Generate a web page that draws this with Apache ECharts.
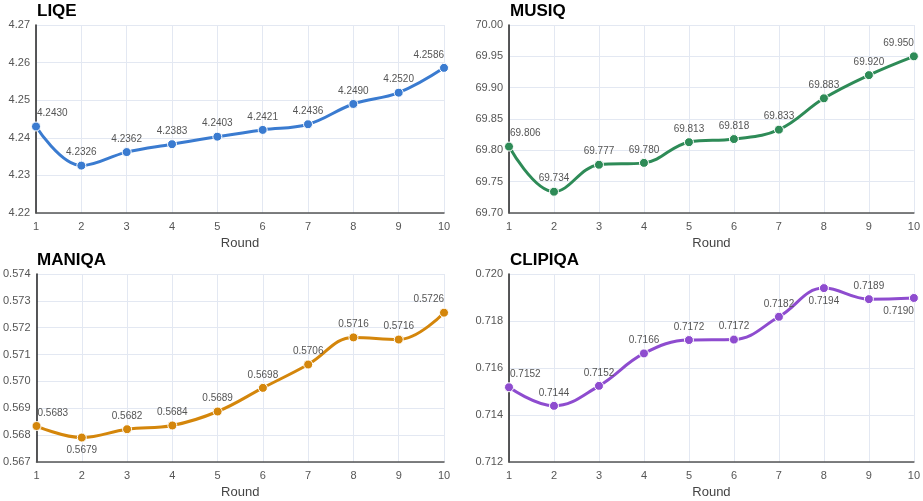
<!DOCTYPE html>
<html>
<head>
<meta charset="utf-8">
<script src="https://cdn.jsdelivr.net/npm/echarts@6/dist/echarts.min.js"></script>
<style>html,body{margin:0;padding:0;background:#fff}#c{width:923px;height:501px}</style>
</head>
<body>
<div id="c"></div>
<script>
const rounds = ['1','2','3','4','5','6','7','8','9','10'];
const liqe = [4.2430, 4.2326, 4.2362, 4.2383, 4.2403, 4.2421, 4.2436, 4.2490, 4.2520, 4.2586];
const musiq = [69.806, 69.734, 69.777, 69.780, 69.813, 69.818, 69.833, 69.883, 69.920, 69.950];
const maniqa = [0.56834, 0.56791, 0.56822, 0.56836, 0.56888, 0.56976, 0.57063, 0.57164, 0.57156, 0.57256];
const clipiqa = [0.71518, 0.71439, 0.71524, 0.71662, 0.71719, 0.71721, 0.71818, 0.71940, 0.71893, 0.71898];

const panels = [
  {name:'LIQE', data:liqe, color:'#3a7bd0', min:4.22, max:4.27, interval:0.01, axisDec:2, labDec:4, below:[], titleTop:-2, grid:{left:36, top:25, width:408, height:188}},
  {name:'MUSIQ', data:musiq, color:'#2e8b57', min:69.70, max:70.00, interval:0.05, axisDec:2, labDec:3, below:[], titleTop:-2, grid:{left:509, top:25, width:408, height:188}},
  {name:'MANIQA', data:maniqa, color:'#d4860b', min:0.567, max:0.574, interval:0.001, axisDec:3, labDec:4, below:[1], titleTop:247, grid:{left:36, top:274, width:408, height:188}},
  {name:'CLIPIQA', data:clipiqa, color:'#8e4ccf', min:0.712, max:0.720, interval:0.002, axisDec:3, labDec:4, below:[7,9], titleTop:247, grid:{left:509, top:274, width:408, height:188}}
];

const chart = echarts.init(document.getElementById('c'), null, {renderer:'canvas'});
const font = 'Liberation Sans, Arial, sans-serif';
const option = {
  animation:false,
  title:[], grid:[], xAxis:[], yAxis:[], series:[]
};
panels.forEach((p, i) => {
  option.title.push({text:p.name, left:p.grid.left - 4, top:p.titleTop, textStyle:{fontFamily:font, fontWeight:'bold', fontSize:17, color:'#000'}});
  option.grid.push(Object.assign({containLabel:false}, p.grid));
  option.xAxis.push({
    type:'category', gridIndex:i, data:rounds, boundaryGap:false,
    name:'Round', nameLocation:'middle', nameGap:24,
    nameTextStyle:{fontFamily:font, fontSize:13, color:'#444'},
    axisLine:{lineStyle:{color:'#555', width:1.5}},
    axisTick:{show:false},
    axisLabel:{fontFamily:font, fontSize:11, color:'#555', margin:8},
    splitLine:{show:true, lineStyle:{color:'#e3e8f2', width:1}}
  });
  option.yAxis.push({
    type:'value', gridIndex:i, min:p.min, max:p.max, interval:p.interval,
    axisLine:{show:true, lineStyle:{color:'#222', width:1.5}},
    axisTick:{show:false},
    axisLabel:{fontFamily:font, fontSize:11, color:'#555', margin:6, formatter:v => v.toFixed(p.axisDec)},
    splitLine:{show:true, lineStyle:{color:'#e3e8f2', width:1}}
  });
  const n = p.data.length;
  option.series.push({
    type:'line', xAxisIndex:i, yAxisIndex:i, smooth:0.4,
    symbol:'circle', symbolSize:9,
    lineStyle:{color:p.color, width:3},
    itemStyle:{color:p.color, borderColor:'#fff', borderWidth:1},
    label:{show:true, position:'top', distance:3, fontFamily:font, fontSize:10, color:'#555', formatter:o => o.value.toFixed(p.labDec)},
    data:p.data.map((v, k) => {
      const lab = {};
      if (p.below.indexOf(k) >= 0) { lab.position = 'bottom'; }
      if (k === 0) { lab.align = 'left'; lab.offset = [1, 0]; }
      if (k === n - 1) { lab.align = 'right'; lab.offset = [0, 0]; }
      return {value:v, label:lab};
    })
  });
});
chart.setOption(option);
</script>
</body>
</html>
